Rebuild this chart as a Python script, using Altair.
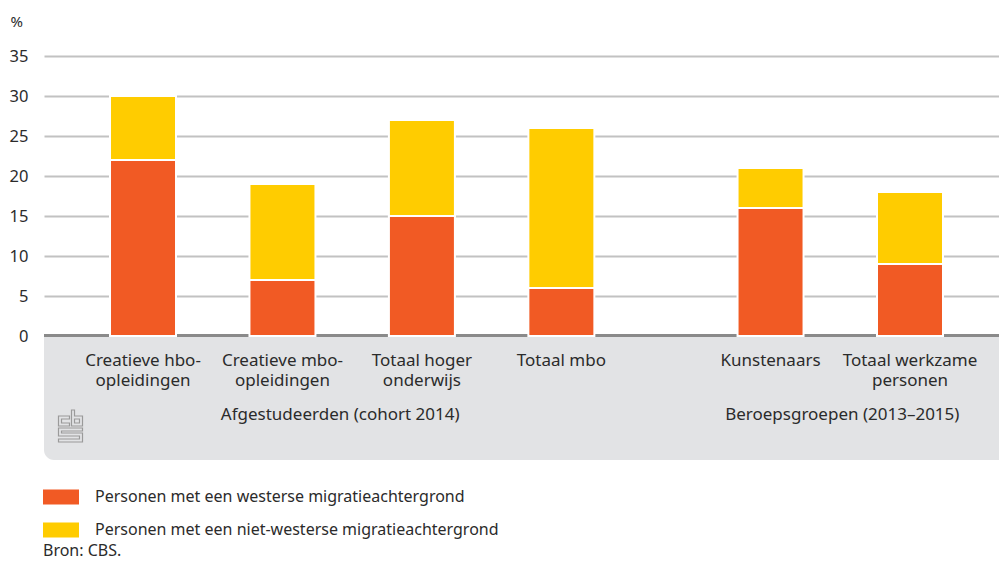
import altair as alt
import pandas as pd

# ---- data ----
categories = ["Creatieve hbo-opleidingen", "Creatieve mbo-opleidingen", "Totaal hoger onderwijs",
              "Totaal mbo", "Kunstenaars", "Totaal werkzame personen"]
tick_labels = ["Creatieve hbo-\nopleidingen", "Creatieve mbo-\nopleidingen", "Totaal hoger\nonderwijs",
               "Totaal mbo", "Kunstenaars", "Totaal werkzame\npersonen"]
westers = [22, 7, 15, 6, 16, 9]
niet_westers = [8, 12, 12, 20, 5, 9]
series = ["Personen met een westerse migratieachtergrond",
          "Personen met een niet-westerse migratieachtergrond"]
group_labels = ["Afgestudeerden (cohort 2014)", "Beroepsgroepen (2013–2015)"]
source = "Bron: CBS."

# band-scale domain with spacer slots (gap between the two groups)
slots = [categories[0], "_s1", categories[1], "_s2", categories[2], "_s3", categories[3],
         "_s4", "_s5", categories[4], "_s6", categories[5]]
group_slots = ["_s2", "_s6"]

ORANGE = "#f15a24"
YELLOW = "#ffcc00"
TXT = "#2b2b2b"
FONT = "Noto Sans"

W, H = 955, 280

rows = []
for c, a, b in zip(categories, westers, niet_westers):
    rows.append({"slot": c, "series": series[0], "value": a, "ord": 0})
    rows.append({"slot": c, "series": series[1], "value": b, "ord": 1})
df = pd.DataFrame(rows)
lab_df = pd.DataFrame({"slot": categories, "label": tick_labels})
grp1_df = pd.DataFrame({"slot": [group_slots[0]], "label": [group_labels[0]]})
grp2_df = pd.DataFrame({"slot": [group_slots[1]], "label": [group_labels[1]]})

xscale = alt.Scale(domain=slots, paddingInner=0.0535, paddingOuter=0.875, align=0.541)
one = alt.Data(values=[{"k": 1}])

panel = alt.Chart(one).mark_rect(color="#e2e3e5", cornerRadiusBottomLeft=10).encode(
    x=alt.value(0), x2=alt.value(W), y=alt.value(H + 1), y2=alt.value(H + 124))

axis_line = alt.Chart(one).mark_rule(color="#8a8a8a", strokeWidth=3).encode(
    x=alt.value(0), x2=alt.value(W), y=alt.value(H - 0.5))

bars = alt.Chart(df).mark_bar(stroke="white", strokeWidth=2).encode(
    x=alt.X("slot:N", scale=xscale, axis=None),
    y=alt.Y("value:Q", stack="zero",
            scale=alt.Scale(domain=[0, 35]),
            axis=alt.Axis(values=list(range(0, 36, 5)), title="%", titleAngle=0,
                          titleAlign="left", titleBaseline="alphabetic", titleX=-34, titleY=-30,
                          titleFontSize=15, titleFontWeight="normal", titleColor=TXT,
                          labelFontSize=16.5, labelColor=TXT, labelPadding=16,
                          ticks=False, tickSize=0, domain=False,
                          grid=True, gridColor="#c2c2c2", gridWidth=1.8)),
    color=alt.Color("series:N", scale=alt.Scale(domain=series, range=[ORANGE, YELLOW]),
                    legend=alt.Legend(orient="none", legendX=-1, legendY=423, title=None,
                                      direction="vertical",
                                      symbolType="M-1,-0.4167H1V0.4167H-1Z", symbolSize=1296,
                                      symbolStrokeWidth=0, symbolOpacity=1,
                                      labelFontSize=16, labelColor=TXT, labelOffset=16,
                                      rowPadding=7, labelLimit=600)),
    order=alt.Order("ord:Q"),
)

labels = alt.Chart(lab_df).mark_text(fontSize=17, color=TXT, baseline="alphabetic",
                                     lineBreak="\n", lineHeight=20).encode(
    x=alt.X("slot:N", scale=xscale, axis=None),
    y=alt.value(H + 30),
    text="label:N")

groups1 = alt.Chart(grp1_df).mark_text(fontSize=17, color=TXT, baseline="alphabetic", dx=-12).encode(
    x=alt.X("slot:N", scale=xscale, axis=None), y=alt.value(H + 84), text="label:N")
groups2 = alt.Chart(grp2_df).mark_text(fontSize=17, color=TXT, baseline="alphabetic", dx=2).encode(
    x=alt.X("slot:N", scale=xscale, axis=None), y=alt.value(H + 84), text="label:N")

logo_path = ("M-1,-10H-12V0H-1V-3H-9V-7H-1Z "
             "M1,-16H4V-10H12V0H1Z M4,-7H9V-3H4Z "
             "M-12,2H12V5H-9V7H12V16H-12V13H9V10H-12Z")
logo = alt.Chart(one).mark_point(shape=logo_path, size=4, filled=False, stroke="#9a9a9a",
                                 strokeWidth=1.2, opacity=1).encode(
    x=alt.value(26.5), y=alt.value(H + 90))

src = alt.Chart(one).mark_text(fontSize=16, color=TXT, align="left", baseline="alphabetic",
                               text=source).encode(x=alt.value(-1), y=alt.value(H + 220))

chart = alt.layer(panel, axis_line, bars, labels, groups1, groups2, logo, src).properties(
    width=W, height=H,
    autosize=alt.AutoSizeParams(type="none"),
    padding={"left": 36, "top": 48, "right": 0, "bottom": 226}
).configure(font=FONT).configure_view(stroke=None)

chart.save("out.html", embed_options={"renderer": "svg", "actions": False})
